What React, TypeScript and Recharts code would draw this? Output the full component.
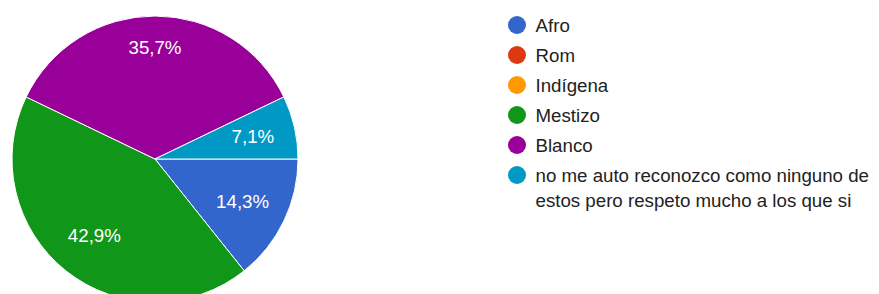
import { PieChart, Pie, Cell, Legend } from "recharts";

const categories = [
  "Afro",
  "Rom",
  "Indígena",
  "Mestizo",
  "Blanco",
  "no me auto reconozco como ninguno de estos pero respeto mucho a los que si",
];
const counts = [2, 0, 0, 6, 5, 1];
const colors = ["#3366cc", "#dc3912", "#ff9900", "#109618", "#990099", "#0099c6"];

const data = categories.map((name, i) => ({ name, value: counts[i] }));
const total = counts.reduce((a, b) => a + b, 0);

const FONT = "Arial, 'Liberation Sans', sans-serif";
const RAD = Math.PI / 180;

const renderLabel = (props: any) => {
  const { cx, cy, midAngle, outerRadius, value } = props;
  if (!value) return null;
  const s = Math.sin(midAngle * RAD);
  const r = outerRadius * (0.68 + 0.1 * Math.max(0, s));
  const x = cx + r * Math.cos(-midAngle * RAD);
  const y = cy + r * Math.sin(-midAngle * RAD);
  const pct = ((value / total) * 100).toFixed(1).replace(".", ",") + "%";
  return (
    <text
      x={x}
      y={y}
      fill="#fff"
      textAnchor="middle"
      dominantBaseline="central"
      fontFamily={FONT}
      fontSize={18.7}
    >
      {pct}
    </text>
  );
};

const renderLegend = () => (
  <div style={{ fontFamily: FONT, fontSize: 18.7, color: "#222" }}>
    {categories.map((name, i) => (
      <div
        key={name}
        style={{ display: "flex", alignItems: "flex-start", marginBottom: 5 }}
      >
        <div
          style={{
            width: 18,
            height: 18,
            borderRadius: "50%",
            background: colors[i],
            marginTop: 3.5,
            marginRight: 9.5,
            flexShrink: 0,
          }}
        />
        <div style={{ lineHeight: "25px", width: 345 }}>{name}</div>
      </div>
    ))}
  </div>
);

export default function App() {
  return (
    <div style={{ position: "absolute", left: 0, top: 0 }}>
      <PieChart
        width={879}
        height={294}
        margin={{ top: 0, right: 0, bottom: 0, left: 0 }}
      >
        <Pie
          data={data}
          dataKey="value"
          cx={155}
          cy={159}
          outerRadius={143}
          startAngle={0}
          endAngle={-360}
          stroke="#fff"
          strokeWidth={1}
          label={renderLabel}
          labelLine={false}
          isAnimationActive={false}
        >
          {data.map((d, i) => (
            <Cell key={d.name} fill={colors[i]} />
          ))}
        </Pie>
        <Legend
          content={renderLegend}
          wrapperStyle={{ left: 508, top: 12.5, width: 371 }}
        />
      </PieChart>
    </div>
  );
}
